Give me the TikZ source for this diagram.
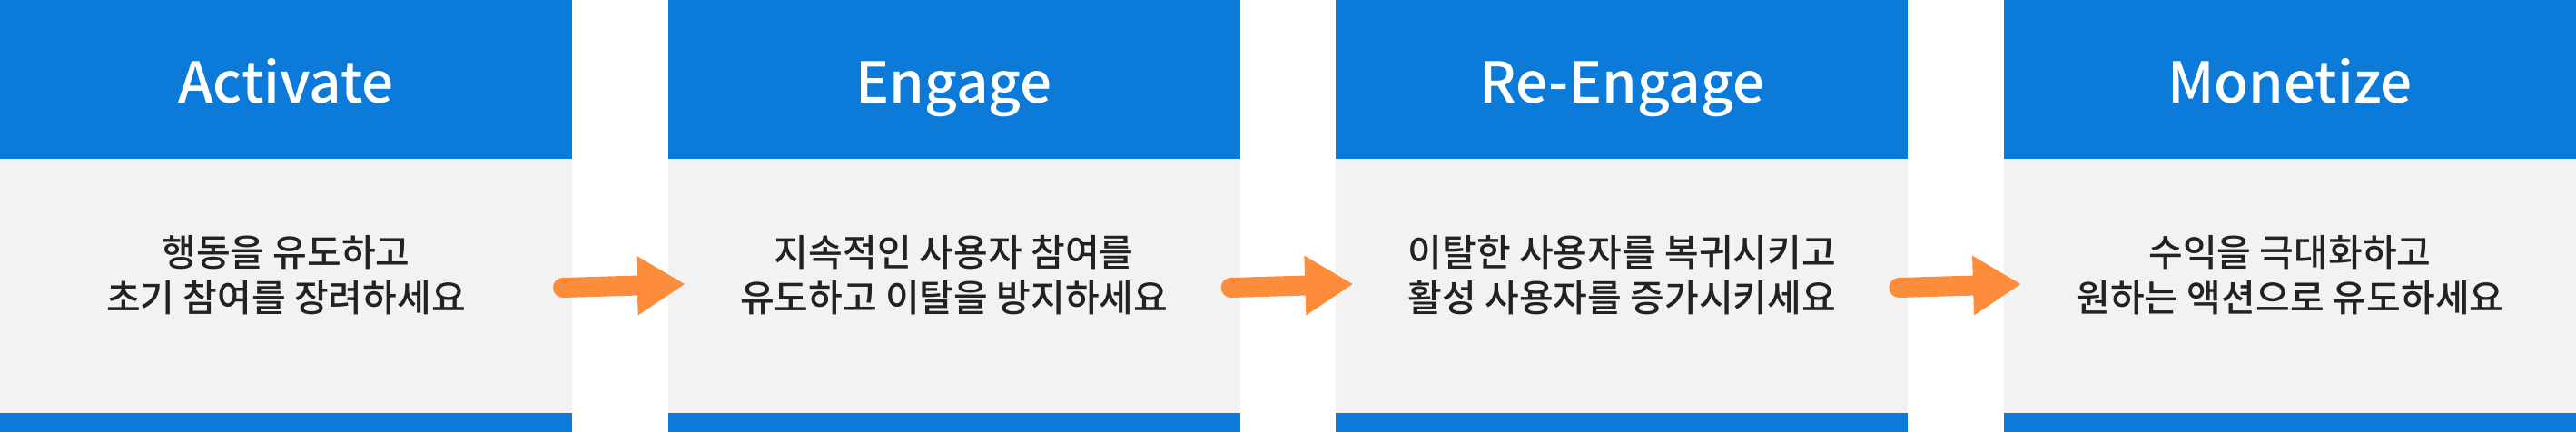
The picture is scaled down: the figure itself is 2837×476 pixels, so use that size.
\documentclass[tikz,border=0pt]{standalone}
\usepackage{fontspec}
\setmainfont{Noto Sans CJK KR Medium}
\usetikzlibrary{arrows.meta}
\definecolor{hdblue}{RGB}{12,122,216}
\definecolor{bodygray}{RGB}{242,242,242}
\definecolor{arrorange}{RGB}{253,141,58}
\definecolor{ink}{RGB}{34,34,34}
\begin{document}
\begin{tikzpicture}[x=1pt, y=1pt,
  head/.style={fill=hdblue,minimum width=630pt,minimum height=175pt,inner sep=0pt,outer sep=0pt,text=white,font=\fontsize{62}{70}\selectfont,text height=53pt,text depth=0pt},
  body/.style={fill=bodygray,minimum width=630pt,minimum height=280pt,inner sep=0pt,outer sep=0pt},
  foot/.style={fill=hdblue,minimum width=630pt,minimum height=21pt,inner sep=0pt,outer sep=0pt},
  desc/.style={text=ink,align=center,inner sep=0pt,font=\fontsize{41}{50}\selectfont},
  flowarrow/.style={draw=arrorange,line width=22pt,line cap=round,-{Triangle[length=53pt,width=62pt]}}]
\useasboundingbox (0,0) rectangle (2837,476);
% stage 1
\node[head] (act) at (315,388.5) {Activate};
\node[body] (actbody) at (315,161) {};
\node[foot] (actfoot) at (315,10.5) {};
\node[desc] (acttext) at ([yshift=12pt]actbody.center) {행동을 유도하고\\초기 참여를 장려하세요};
% stage 2
\node[head] (eng) at (1050.67,388.5) {Engage};
\node[body] (engbody) at (1050.67,161) {};
\node[foot] (engfoot) at (1050.67,10.5) {};
\node[desc] (engtext) at ([yshift=12pt]engbody.center) {지속적인 사용자 참여를\\유도하고 이탈을 방지하세요};
% stage 3
\node[head] (reeng) at (1786.33,388.5) {Re-Engage};
\node[body] (reengbody) at (1786.33,161) {};
\node[foot] (reengfoot) at (1786.33,10.5) {};
\node[desc] (reengtext) at ([yshift=12pt]reengbody.center) {이탈한 사용자를 복귀시키고\\활성 사용자를 증가시키세요};
% stage 4
\node[head] (mon) at (2522,388.5) {Monetize};
\node[body] (monbody) at (2522,161) {};
\node[foot] (monfoot) at (2522,10.5) {};
\node[desc] (montext) at ([yshift=12pt]monbody.center) {수익을 극대화하고\\원하는 액션으로 유도하세요};
% arrows between stages
\draw[flowarrow] ([xshift=-10pt,yshift=-2pt]actbody.east) -- ([xshift=19pt,yshift=2pt]engbody.west);
\draw[flowarrow] ([xshift=-10pt,yshift=-2pt]engbody.east) -- ([xshift=19pt,yshift=2pt]reengbody.west);
\draw[flowarrow] ([xshift=-10pt,yshift=-2pt]reengbody.east) -- ([xshift=19pt,yshift=2pt]monbody.west);
\end{tikzpicture}
\end{document}
